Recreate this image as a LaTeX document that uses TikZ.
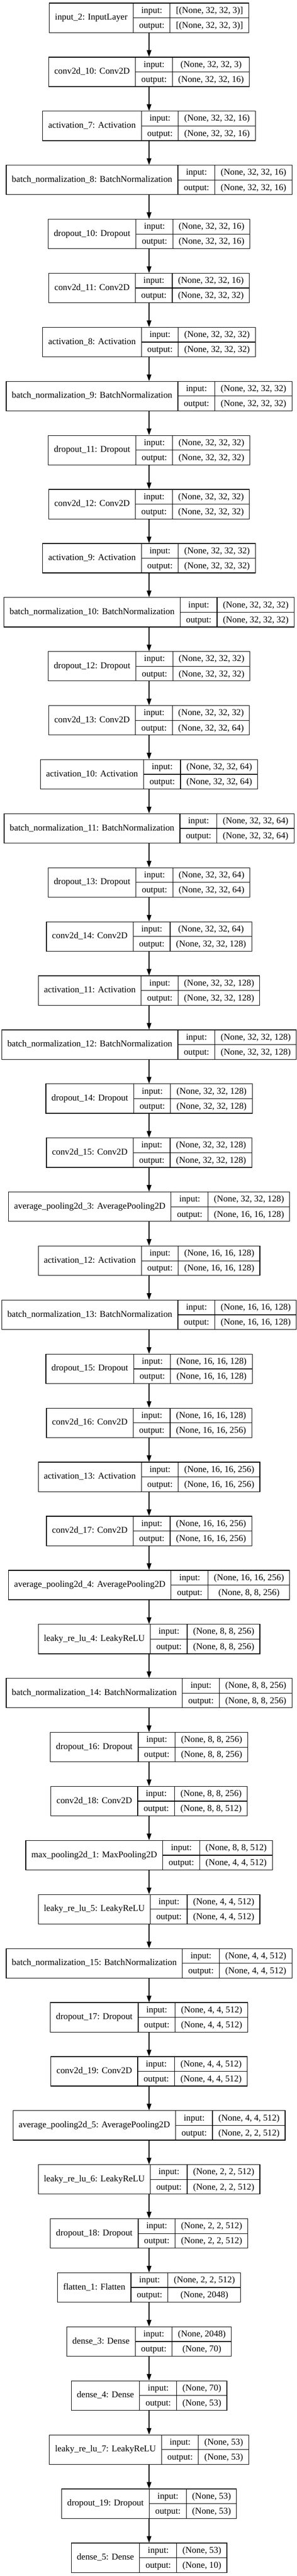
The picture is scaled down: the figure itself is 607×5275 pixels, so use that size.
\documentclass[tikz,border=0pt]{standalone}
\usepackage{fontspec}
\setmainfont{Liberation Serif}
\usepackage{tikz}
\usetikzlibrary{arrows.meta}

\setlength{\tabcolsep}{11.5pt}
\setlength{\arrayrulewidth}{1.3pt}
\newcommand\rs{\rule[-9.25pt]{0pt}{29.5pt}}
\newcommand\layerbox[3]{%
  \begin{tabular}{c|@{}c@{}|@{}c@{}}
    #1 &
    \begin{tabular}{c}\rs input:\\\hline\rs output:\end{tabular} &
    \begin{tabular}{c}\rs #2\\\hline\rs #3\end{tabular}
  \end{tabular}}

\begin{document}
\begin{tikzpicture}[x=1pt,y=1pt,
    layer/.style={draw, line width=1.3pt, inner sep=0pt, font=\fontsize{18.3}{22}\selectfont},
    edge/.style={-{Triangle[length=13.5pt,width=9.5pt]}, line width=1.3pt}]
          \useasboundingbox (0,0) rectangle (607,-5275);

          \foreach \lname/\lin/\lout [count=\i] in {
            input\_2: InputLayer/{[(None, 32, 32, 3)]}/{[(None, 32, 32, 3)]},
            conv2d\_10: Conv2D/{(None, 32, 32, 3)}/{(None, 32, 32, 16)},
            activation\_7: Activation/{(None, 32, 32, 16)}/{(None, 32, 32, 16)},
            batch\_normalization\_8: BatchNormalization/{(None, 32, 32, 16)}/{(None, 32, 32, 16)},
            dropout\_10: Dropout/{(None, 32, 32, 16)}/{(None, 32, 32, 16)},
            conv2d\_11: Conv2D/{(None, 32, 32, 16)}/{(None, 32, 32, 32)},
            activation\_8: Activation/{(None, 32, 32, 32)}/{(None, 32, 32, 32)},
            batch\_normalization\_9: BatchNormalization/{(None, 32, 32, 32)}/{(None, 32, 32, 32)},
            dropout\_11: Dropout/{(None, 32, 32, 32)}/{(None, 32, 32, 32)},
            conv2d\_12: Conv2D/{(None, 32, 32, 32)}/{(None, 32, 32, 32)},
            activation\_9: Activation/{(None, 32, 32, 32)}/{(None, 32, 32, 32)},
            batch\_normalization\_10: BatchNormalization/{(None, 32, 32, 32)}/{(None, 32, 32, 32)},
            dropout\_12: Dropout/{(None, 32, 32, 32)}/{(None, 32, 32, 32)},
            conv2d\_13: Conv2D/{(None, 32, 32, 32)}/{(None, 32, 32, 64)},
            activation\_10: Activation/{(None, 32, 32, 64)}/{(None, 32, 32, 64)},
            batch\_normalization\_11: BatchNormalization/{(None, 32, 32, 64)}/{(None, 32, 32, 64)},
            dropout\_13: Dropout/{(None, 32, 32, 64)}/{(None, 32, 32, 64)},
            conv2d\_14: Conv2D/{(None, 32, 32, 64)}/{(None, 32, 32, 128)},
            activation\_11: Activation/{(None, 32, 32, 128)}/{(None, 32, 32, 128)},
            batch\_normalization\_12: BatchNormalization/{(None, 32, 32, 128)}/{(None, 32, 32, 128)},
            dropout\_14: Dropout/{(None, 32, 32, 128)}/{(None, 32, 32, 128)},
            conv2d\_15: Conv2D/{(None, 32, 32, 128)}/{(None, 32, 32, 128)},
            average\_pooling2d\_3: AveragePooling2D/{(None, 32, 32, 128)}/{(None, 16, 16, 128)},
            activation\_12: Activation/{(None, 16, 16, 128)}/{(None, 16, 16, 128)},
            batch\_normalization\_13: BatchNormalization/{(None, 16, 16, 128)}/{(None, 16, 16, 128)},
            dropout\_15: Dropout/{(None, 16, 16, 128)}/{(None, 16, 16, 128)},
            conv2d\_16: Conv2D/{(None, 16, 16, 128)}/{(None, 16, 16, 256)},
            activation\_13: Activation/{(None, 16, 16, 256)}/{(None, 16, 16, 256)},
            conv2d\_17: Conv2D/{(None, 16, 16, 256)}/{(None, 16, 16, 256)},
            average\_pooling2d\_4: AveragePooling2D/{(None, 16, 16, 256)}/{(None, 8, 8, 256)},
            leaky\_re\_lu\_4: LeakyReLU/{(None, 8, 8, 256)}/{(None, 8, 8, 256)},
            batch\_normalization\_14: BatchNormalization/{(None, 8, 8, 256)}/{(None, 8, 8, 256)},
            dropout\_16: Dropout/{(None, 8, 8, 256)}/{(None, 8, 8, 256)},
            conv2d\_18: Conv2D/{(None, 8, 8, 256)}/{(None, 8, 8, 512)},
            max\_pooling2d\_1: MaxPooling2D/{(None, 8, 8, 512)}/{(None, 4, 4, 512)},
            leaky\_re\_lu\_5: LeakyReLU/{(None, 4, 4, 512)}/{(None, 4, 4, 512)},
            batch\_normalization\_15: BatchNormalization/{(None, 4, 4, 512)}/{(None, 4, 4, 512)},
            dropout\_17: Dropout/{(None, 4, 4, 512)}/{(None, 4, 4, 512)},
            conv2d\_19: Conv2D/{(None, 4, 4, 512)}/{(None, 4, 4, 512)},
            average\_pooling2d\_5: AveragePooling2D/{(None, 4, 4, 512)}/{(None, 2, 2, 512)},
            leaky\_re\_lu\_6: LeakyReLU/{(None, 2, 2, 512)}/{(None, 2, 2, 512)},
            dropout\_18: Dropout/{(None, 2, 2, 512)}/{(None, 2, 2, 512)},
            flatten\_1: Flatten/{(None, 2, 2, 512)}/{(None, 2048)},
            dense\_3: Dense/{(None, 2048)}/{(None, 70)},
            dense\_4: Dense/{(None, 70)}/{(None, 53)},
            leaky\_re\_lu\_7: LeakyReLU/{(None, 53)}/{(None, 53)},
            dropout\_19: Dropout/{(None, 53)}/{(None, 53)},
            dense\_5: Dense/{(None, 53)}/{(None, 10)}} {
            \node[layer] (l\i) at (305, {-36.5-110.66*(\i-1)}) {\layerbox{\lname}{\lin}{\lout}};
          }

          \foreach \i [remember=\i as \j (initially 1)] in {2,...,48} {
            \draw[edge] (l\j) -- (l\i);
          }
        \end{tikzpicture}
\end{document}
